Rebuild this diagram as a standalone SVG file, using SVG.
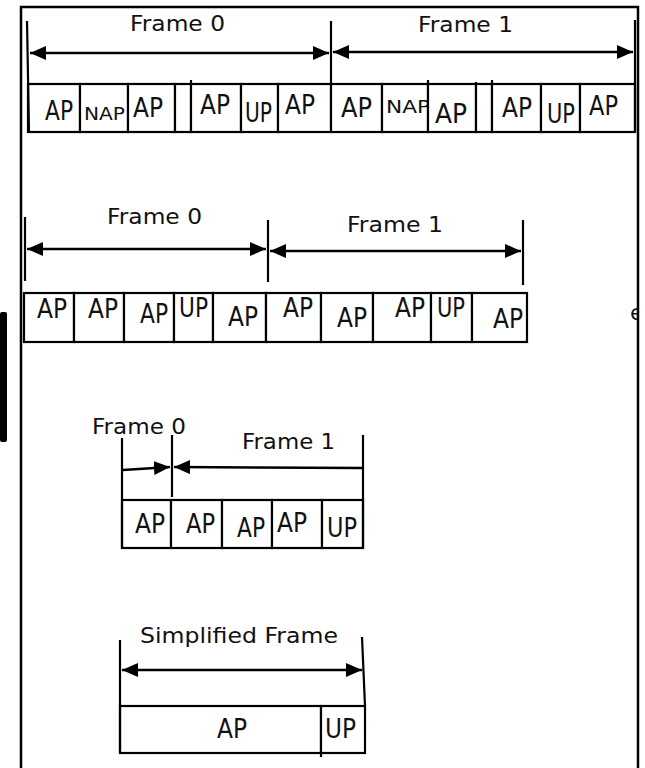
<svg xmlns="http://www.w3.org/2000/svg" width="645" height="768" viewBox="0 0 645 768">
<style>
.c{fill:#fff;stroke:#000;stroke-width:2.2}
.t{font-family:"DejaVu Sans","Liberation Sans",sans-serif;fill:#111}
.ap{font-size:26px}
.nap{font-size:18px}
.lb{font-size:22px}
.k{stroke:#000;stroke-width:2.2;fill:none}
.ar{stroke:#000;stroke-width:2.5;fill:none;marker-start:url(#ah);marker-end:url(#ah)}
</style>
<defs>
<marker id="ah" viewBox="0 0 16 14" refX="16" refY="7" markerWidth="16" markerHeight="14" markerUnits="userSpaceOnUse" orient="auto-start-reverse">
<path d="M0,0 L16,7 L0,14 z" fill="#000"/>
</marker>
<clipPath id="clipE"><rect x="600" y="290" width="38" height="40"/></clipPath>
</defs>
<rect width="645" height="768" fill="#fff"/>
<path d="M21,768 V7 H638 V768" fill="none" stroke="#000" stroke-width="2.5"/>
<rect x="0" y="312" width="7" height="130" rx="2" fill="#000"/>
<g id="stray"><text class="t" x="630" y="320" font-size="22" clip-path="url(#clipE)">e</text></g>

<!-- Section 1 -->
<g id="s1-labels">
<text class="t lb" x="130" y="31" textLength="95" lengthAdjust="spacingAndGlyphs">Frame 0</text>
<text class="t lb" x="418" y="32" textLength="95" lengthAdjust="spacingAndGlyphs">Frame 1</text>
</g>
<g id="s1-cells">
<g id="r1c1"><rect class="c" x="28" y="84" width="52" height="48"/><text class="t ap" x="45" y="120" textLength="28" lengthAdjust="spacingAndGlyphs">AP</text></g>
<g id="r1c2"><rect class="c" x="80" y="84" width="48" height="48"/><text class="t nap" x="84" y="120" textLength="41" lengthAdjust="spacingAndGlyphs">NAP</text></g>
<g id="r1c3"><rect class="c" x="128" y="84" width="47" height="48"/><text class="t ap" x="133" y="117" textLength="30" lengthAdjust="spacingAndGlyphs">AP</text></g>
<g id="r1c4"><rect class="c" x="175" y="84" width="16" height="48"/></g>
<g id="r1c5"><rect class="c" x="191" y="84" width="50" height="48"/><text class="t ap" x="200" y="114" textLength="30" lengthAdjust="spacingAndGlyphs">AP</text></g>
<g id="r1c6"><rect class="c" x="241" y="84" width="37" height="48"/><text class="t ap" x="245" y="122" textLength="27" lengthAdjust="spacingAndGlyphs">UP</text></g>
<g id="r1c7"><rect class="c" x="278" y="84" width="53" height="48"/><text class="t ap" x="285" y="114" textLength="30" lengthAdjust="spacingAndGlyphs">AP</text></g>
<g id="r1c8"><rect class="c" x="331" y="84" width="51" height="48"/><text class="t ap" x="341" y="117" textLength="31" lengthAdjust="spacingAndGlyphs">AP</text></g>
<g id="r1c9"><rect class="c" x="382" y="84" width="46" height="48"/><text class="t nap" x="386" y="113" textLength="44" lengthAdjust="spacingAndGlyphs">NAP</text></g>
<g id="r1c10"><rect class="c" x="428" y="84" width="48" height="48"/><text class="t ap" x="435" y="123" textLength="32" lengthAdjust="spacingAndGlyphs">AP</text></g>
<g id="r1c11"><rect class="c" x="476" y="84" width="16" height="48"/></g>
<g id="r1c12"><rect class="c" x="492" y="84" width="49" height="48"/><text class="t ap" x="502" y="117" textLength="30" lengthAdjust="spacingAndGlyphs">AP</text></g>
<g id="r1c13"><rect class="c" x="541" y="84" width="39" height="48"/><text class="t ap" x="547" y="123" textLength="28" lengthAdjust="spacingAndGlyphs">UP</text></g>
<g id="r1c14"><rect class="c" x="580" y="84" width="55" height="48"/><text class="t ap" x="589" y="115" textLength="29" lengthAdjust="spacingAndGlyphs">AP</text></g>
</g>

<!-- Section 2 -->
<g id="s2-labels">
<text class="t lb" x="107" y="224" textLength="95" lengthAdjust="spacingAndGlyphs">Frame 0</text>
<text class="t lb" x="347" y="232" textLength="96" lengthAdjust="spacingAndGlyphs">Frame 1</text>
</g>
<g id="s2-cells">
<g id="r2c1"><rect class="c" x="24" y="293" width="50" height="49"/><text class="t ap" x="37" y="318" textLength="30" lengthAdjust="spacingAndGlyphs">AP</text></g>
<g id="r2c2"><rect class="c" x="74" y="293" width="50" height="49"/><text class="t ap" x="88" y="318" textLength="30" lengthAdjust="spacingAndGlyphs">AP</text></g>
<g id="r2c3"><rect class="c" x="124" y="293" width="50" height="49"/><text class="t ap" x="140" y="323" textLength="28" lengthAdjust="spacingAndGlyphs">AP</text></g>
<g id="r2c4"><rect class="c" x="174" y="293" width="39" height="49"/><text class="t ap" x="179" y="317" textLength="29" lengthAdjust="spacingAndGlyphs">UP</text></g>
<g id="r2c5"><rect class="c" x="213" y="293" width="53" height="49"/><text class="t ap" x="228" y="326" textLength="30" lengthAdjust="spacingAndGlyphs">AP</text></g>
<g id="r2c6"><rect class="c" x="266" y="293" width="55" height="49"/><text class="t ap" x="283" y="317" textLength="30" lengthAdjust="spacingAndGlyphs">AP</text></g>
<g id="r2c7"><rect class="c" x="321" y="293" width="52" height="49"/><text class="t ap" x="337" y="327" textLength="30" lengthAdjust="spacingAndGlyphs">AP</text></g>
<g id="r2c8"><rect class="c" x="373" y="293" width="58" height="49"/><text class="t ap" x="395" y="317" textLength="30" lengthAdjust="spacingAndGlyphs">AP</text></g>
<g id="r2c9"><rect class="c" x="431" y="293" width="41" height="49"/><text class="t ap" x="437" y="317" textLength="28" lengthAdjust="spacingAndGlyphs">UP</text></g>
<g id="r2c10"><rect class="c" x="472" y="293" width="55" height="49"/><text class="t ap" x="493" y="328" textLength="30" lengthAdjust="spacingAndGlyphs">AP</text></g>
</g>

<!-- Section 3 -->
<g id="s3-labels">
<text class="t lb" x="92" y="434" textLength="94" lengthAdjust="spacingAndGlyphs">Frame 0</text>
<text class="t lb" x="242" y="449" textLength="93" lengthAdjust="spacingAndGlyphs">Frame 1</text>
</g>
<g id="s3-cells">
<g id="r3c1"><rect class="c" x="122" y="500" width="49" height="48"/><text class="t ap" x="135" y="533" textLength="30" lengthAdjust="spacingAndGlyphs">AP</text></g>
<g id="r3c2"><rect class="c" x="171" y="500" width="51" height="48"/><text class="t ap" x="186" y="533" textLength="29" lengthAdjust="spacingAndGlyphs">AP</text></g>
<g id="r3c3"><rect class="c" x="222" y="500" width="50" height="48"/><text class="t ap" x="237" y="537" textLength="28" lengthAdjust="spacingAndGlyphs">AP</text></g>
<g id="r3c4"><rect class="c" x="272" y="500" width="50" height="48"/><text class="t ap" x="277" y="532" textLength="30" lengthAdjust="spacingAndGlyphs">AP</text></g>
<g id="r3c5"><rect class="c" x="322" y="500" width="41" height="48"/><text class="t ap" x="327" y="537" textLength="30" lengthAdjust="spacingAndGlyphs">UP</text></g>
</g>

<!-- Section 4 -->
<g id="s4-label">
<text class="t lb" x="140" y="643" textLength="198" lengthAdjust="spacingAndGlyphs">Simplified Frame</text>
</g>
<g id="s4-cells">
<g id="r4c1"><rect class="c" x="120" y="706" width="201" height="47"/><text class="t ap" x="217" y="738" textLength="30" lengthAdjust="spacingAndGlyphs">AP</text></g>
<g id="r4c2"><rect class="c" x="321" y="706" width="44" height="47"/><text class="t ap" x="325" y="738" textLength="31" lengthAdjust="spacingAndGlyphs">UP</text></g>
</g>

<g id="connectors">
<path class="k" d="M27,21 L29,133"/>
<path class="k" d="M331,21 V84"/>
<path class="k" d="M635,20 V133" stroke-width="4"/>
<path class="k" d="M191,80 V84"/>
<path class="k" d="M428,80 V84"/>
<path class="k" d="M476,82 V84"/>
<path class="k" d="M492,80 V84"/>
<path class="ar" d="M30,53 H329"/>
<path class="ar" d="M333,52 H633"/>
<path class="k" d="M25,217 V281"/>
<path class="k" d="M268,220 V282"/>
<path class="k" d="M523,220 V285"/>
<path class="ar" d="M27,249 H266"/>
<path class="ar" d="M270,251 H521"/>
<path class="k" d="M122,438 V548"/>
<path class="k" d="M172,435 V497"/>
<path class="k" d="M363,435 V548"/>
<path class="ar" d="M123,470 L170,467" style="marker-start:none"/>
<path class="ar" d="M174,467 L362,468" style="marker-end:none"/>
<path class="k" d="M120,640 V753"/>
<path class="k" d="M362,637 L365,706"/>
<path class="k" d="M321,753 V757"/>
<path class="ar" d="M122,670 H362"/>
</g>
</svg>
